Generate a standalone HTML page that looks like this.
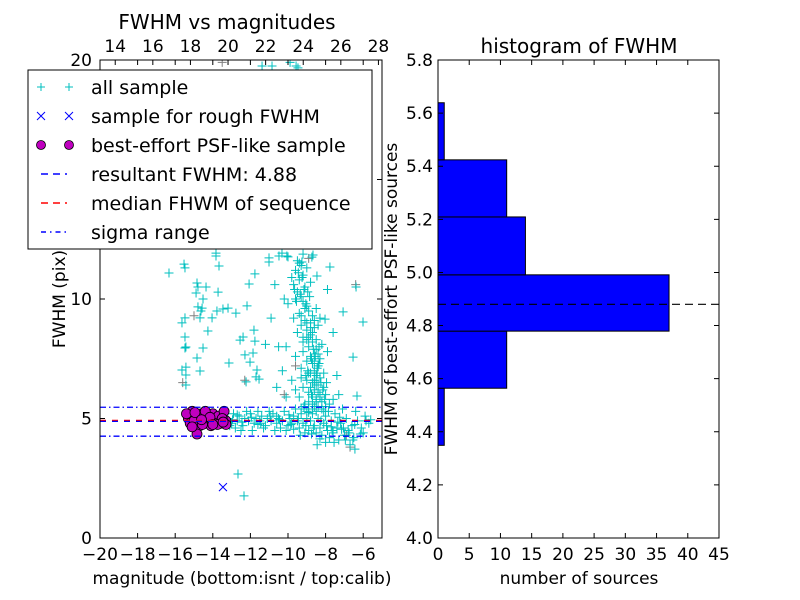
<!DOCTYPE html>
<html><head><meta charset="utf-8"><style>
body{margin:0;background:#fff}
svg{display:block;font-family:"DejaVu Sans","Liberation Sans",sans-serif}
</style></head><body>
<svg id="c" width="800" height="600" viewBox="0 0 800 600">
<rect width="800" height="600" fill="#fff"/>
<g id="left"></g>
<g id="right"></g>
</svg>
<script>
// ---- scatter data ----
const sampleMag = [-16.33,-15.53,-15.48,-13.67,-13.83,-14.84,-14.79,-14.36,-14.89,-13.72,-14.52,-14.57,-14.68,-14.63,-14.79,-15.48,-15.64,-14.04,-13.78,-13.46,-13.19,-12.77,-12.18,-14.26,-15.48,-15.43,-15.48,-14.52,-14.84,-15.64,-15.43,-15.43,-15.43,-14.68,-13.14,-12.55,-12.39,-11.81,-11.76,-12.29,-11.86,-12.02,-11.65,-11.70,-11.54,-12.23,-12.07,-11.76,-11.01,-10.32,-10.0,-9.20,-8.67,-7.77,-8.46,-6.38,-7.07,-6.01,-6.54,-8.03,-6.33,-6.44,-12.66,-12.34,
-11.38,-10.85,-9.89,-9.57,-9.47,-13.83,-11.01,-10.48,-10.06,-9.26,-8.73,
-9.5,-9.3,-9.6,-9.2,-9.4,-9.7,-9.1,-9.5,-9.3,-9.8,-9.0,-9.4,-8.8,-9.6,
-9.2,-9.0,-8.9,-9.4,-8.7,-9.1,-8.8,-9.3,-8.6,-9.0,-9.5,-8.8,-8.5,-9.7,-8.4,-9.2,-10.0,-8.3,
-9.0,-8.7,-8.9,-8.5,-9.2,-8.6,-8.8,-8.3,-9.0,-8.7,-8.4,-9.3,-8.6,-8.9,-8.2,-9.6,-10.1,-7.9,
-8.8,-8.5,-8.3,-9.0,-8.7,-8.4,-8.1,-9.2,-8.6,-8.9,-8.3,-8.0,-9.4,-8.7,-8.5,-8.2,-8.9,-9.1,-8.4,-8.0,-8.7,-9.3,-7.8,-9.6,-8.6,-8.1,-9.0,-8.5,-7.6,-9.8,
-10.5,-10.3,-10.6,-10.1,-10.7,-10.2,-7.6,-7.4,-7.3,-10.9,-11.2,-7.9,
-13.2,-13.0,-12.9,-12.7,-12.6,-12.4,-12.3,-12.1,-12.0,-11.8,-11.7,-11.5,-11.4,-11.2,-11.1,-10.9,-10.8,-10.6,-10.5,-10.3,-10.2,-10.0,-9.9,-9.8,-9.7,-9.5,-9.4,-9.3,-9.2,-9.0,-8.9,-8.8,-8.7,-8.6,-8.5,-8.4,-8.3,-8.2,-8.1,-8.0,-7.9,-7.8,-7.7,-7.6,-7.5,-7.4,-7.3,-7.2,-7.0,-6.9,-6.8,-6.6,-6.5,-6.3,-6.1,-5.9,-5.7,-12.8,-11.9,-11.0,-10.4,-9.6,-9.1,-8.6,-8.0,-7.1,-6.4,-12.2,-11.3,-10.1,-9.95,-8.75,-7.55,-7.25,-6.7,-13.1,-12.5,-11.6,-10.7,-9.35,-8.45,-7.85,-6.95];
const sampleFwhm = [11.09,11.46,11.30,11.38,11.92,10.67,10.50,10.50,10.25,10.29,10.0,9.62,9.21,9.50,9.67,9.21,9.0,9.21,9.50,9.58,9.62,9.41,9.71,8.66,8.41,7.99,7.95,7.95,7.53,7.03,7.15,6.82,6.40,6.99,7.32,8.28,8.41,8.70,8.24,7.66,7.74,7.36,7.03,6.74,6.65,6.53,10.63,11.05,11.72,11.92,11.76,11.88,11.84,11.34,10.96,10.50,9.46,9.04,7.57,9.16,5.94,3.72,2.68,1.76,
19.75,19.75,19.9,19.75,19.67,11.8,11.55,11.8,11.8,11.55,11.75,
11.6,11.4,11.2,11.0,10.8,10.6,10.5,10.3,10.1,10.9,11.3,11.5,10.7,10.0,
9.9,9.7,9.5,9.4,9.3,9.1,9.0,8.9,8.8,8.7,8.6,8.5,9.6,9.2,8.9,8.4,9.8,9.2,
8.3,8.2,8.0,7.9,7.8,7.7,7.6,7.5,7.4,7.3,7.2,7.1,7.0,6.9,8.1,7.6,8.0,7.8,
6.9,6.8,6.7,6.6,6.5,6.4,6.3,6.3,6.2,6.1,6.0,6.0,5.9,5.9,5.8,5.7,5.7,5.6,5.5,5.5,5.4,5.4,5.6,6.2,6.6,6.9,5.3,5.3,5.8,6.6,
8.0,7.0,6.3,5.9,10.6,10.0,8.6,6.8,6.0,9.2,8.1,10.4,
5.0,4.8,5.2,4.9,5.1,4.7,5.0,4.9,5.2,4.8,5.0,4.9,5.1,4.7,5.0,4.9,5.2,4.8,5.0,4.9,5.3,4.7,5.0,4.8,5.1,4.9,4.6,5.2,4.8,5.0,4.5,4.9,5.2,4.7,4.4,5.0,4.6,4.3,4.8,5.1,4.5,4.2,4.9,4.4,5.2,4.6,4.1,4.8,4.3,5.0,4.5,4.7,4.2,4.9,4.6,5.1,4.8,4.6,4.5,5.3,4.6,5.4,4.4,5.5,4.0,5.4,5.3,5.3,4.6,4.5,5.15,4.35,4.0,5.05,3.9,4.7,4.5,5.3,4.5,4.3,3.9,5.3,4.1];
const plumeMag = [-9.45,-9.25,-9.15,-9.35,-9.05,-8.95,-9.55,-9.65,-8.85,-9.1,-9.3,-9.0,-8.8,-8.9,-8.6,-8.7,-9.2,-8.5,-8.65,-8.75,-8.55,-8.45,-8.35,-8.95,-9.05,-8.25,-8.6,-8.4,-8.8,-8.3,-8.15,-8.5,-9.15,-8.7,-8.9,-8.2,-8.05,-8.45,-8.6,-8.35,-9.3,-8.75,-8.5,-8.1,-7.95,-8.4];
const plumeFwhm = [11.1,10.9,10.4,10.2,9.8,10.3,9.9,10.4,10.1,9.6,9.3,9.0,8.8,8.4,9.1,8.6,8.2,8.3,7.9,7.5,7.6,7.1,7.3,7.0,6.8,6.5,6.6,6.1,6.3,5.9,6.2,5.7,5.5,5.6,5.4,5.4,5.8,6.9,7.4,8.0,6.7,6.0,6.4,5.3,6.5,7.7];
const bandMag = [-12.95,-12.45,-11.95,-11.45,-10.95,-10.45,-9.85,-9.45,-9.05,-8.65,-8.25,-7.95,-7.65,-7.35,-7.05,-6.75,-6.45,-6.15,-5.85,-12.7,-11.6,-10.6,-9.7,-8.9,-8.3,-7.7,-7.15,-6.55,-6.0,-5.6];
const bandFwhm = [4.95,4.85,5.05,4.8,5.1,4.95,4.75,5.0,4.7,4.6,4.9,4.7,4.5,4.85,4.6,4.4,4.75,4.35,4.9,5.15,4.75,5.1,4.55,5.25,4.15,4.65,4.55,4.1,4.4,4.95];
const otherMag = [-13.5,-15.6,-12.3,-6.4,-9.6,-8.9,-6.9,-6.7,-10.2,-15.0];
const otherFwhm = [19.9,6.5,6.6,10.6,7.2,11.7,4.3,3.8,6.0,9.3];
const roughMag = [-13.46];
const roughFwhm = [2.13];
const psfMag = [-15.3,-15.1,-14.9,-14.8,-14.6,-14.5,-14.3,-14.2,-14.0,-13.9,-13.7,-13.6,-13.4,-13.3,-15.2,-15.0,-14.7,-14.4,-14.1,-13.8,-13.5,-13.3,-14.84,-15.4,-14.95,-14.55,-14.15,-13.75,-13.45,-14.0,-14.6,-15.1];
const psfFwhm = [5.0,5.3,5.1,4.8,5.2,4.9,5.0,4.8,5.2,4.9,5.1,4.8,5.3,4.9,4.8,4.9,4.7,5.3,4.7,4.8,5.0,4.75,4.35,5.2,5.25,4.75,5.05,4.75,4.85,4.75,4.95,4.65];
const resultFwhm = 4.88, medianFwhm = 4.92, sigmaLo = 4.26, sigmaHi = 5.47;
const xTicks = [-20,-18,-16,-14,-12,-10,-8,-6];
const xTickLabels = ["\u221220","\u221218","\u221216","\u221214","\u221212","\u221210","\u22128","\u22126"];
const topTicks = [14,16,18,20,22,24,26,28];
const yTicks = [0,5,10,15,20];
// ---- histogram data ----
const binEdges = [4.349,4.564,4.779,4.991,5.209,5.424,5.639];
const binCounts = [1,11,37,14,11,1];
const hxTicks = [0,5,10,15,20,25,30,35,40,45];
const hyTicks = [4.0,4.2,4.4,4.6,4.8,5.0,5.2,5.4,5.6,5.8];
const hyTickLabels = ["4.0","4.2","4.4","4.6","4.8","5.0","5.2","5.4","5.6","5.8"];

const NS="http://www.w3.org/2000/svg";
function mk(parent,tag,attrs,text){const e=document.createElementNS(NS,tag);for(const k in attrs)e.setAttribute(k,attrs[k]);if(text!==undefined)e.textContent=text;parent.appendChild(e);return e;}
const TF=17, LF=19, TT=20;

const L={x0:100,x1:382,y0:538,y1:60};
const sx=v=>L.x0+(v+20)*(L.x1-L.x0)/15;
const sy=v=>L.y0-(v)*(L.y0-L.y1)/20;
const tx=v=>L.x0+(v-13.19)*(L.x1-L.x0)/15;
const left=document.getElementById('left');
const clip=mk(left,'clipPath',{id:'lc'});mk(clip,'rect',{x:L.x0,y:L.y1,width:L.x1-L.x0,height:L.y0-L.y1});
const plot=mk(left,'g',{'clip-path':'url(#lc)'});


function plus(g,x,y,col){return mk(g,'path',{d:`M${x-4.5},${y}H${x+4.5}M${x},${y-4.5}V${y+4.5}`,stroke:col,'stroke-width':1,fill:'none'});}
for(let i=0;i<otherMag.length;i++){const p=plus(plot,sx(otherMag[i]),sy(otherFwhm[i]),'#808080');

}
function drawAll(mags,fw){for(let i=0;i<mags.length;i++){const p=plus(plot,sx(mags[i]),sy(fw[i]),'#00bfbf');

}}
drawAll(sampleMag,sampleFwhm);drawAll(plumeMag,plumeFwhm);drawAll(bandMag,bandFwhm);
for(let i=0;i<roughMag.length;i++){const x=sx(roughMag[i]),y=sy(roughFwhm[i]);const p=mk(plot,'path',{d:`M${x-4},${y-4}L${x+4},${y+4}M${x-4},${y+4}L${x+4},${y-4}`,stroke:'#0000ff','stroke-width':1});

}
for(let i=0;i<psfMag.length;i++){const c=mk(plot,'circle',{cx:sx(psfMag[i]),cy:sy(psfFwhm[i]),r:5,fill:'#bf00bf',stroke:'#000','stroke-width':0.8});

}
function hline(g,v,col,dash,name){const l=mk(g,'line',{x1:L.x0,x2:L.x1,y1:sy(v),y2:sy(v),stroke:col,'stroke-width':1.3,'stroke-dasharray':dash});

}
hline(plot,medianFwhm,'#ff0000','6,6','median-fwhm-line');
hline(plot,resultFwhm,'#0000ff','6,6','resultant-fwhm-line');
hline(plot,sigmaHi,'#0000ff','6,3,1.5,3','sigma-upper-line');
hline(plot,sigmaLo,'#0000ff','6,3,1.5,3','sigma-lower-line');
const fr=mk(left,'rect',{x:L.x0,y:L.y1,width:L.x1-L.x0,height:L.y0-L.y1,fill:'none',stroke:'#000','stroke-width':1});


xTicks.forEach((v,i)=>{const x=sx(v);mk(left,'path',{d:`M${x},${L.y0}v-5M${x},${L.y1}v5`,stroke:'#000'});
const t=mk(left,'text',{x:x,y:L.y0+22,'text-anchor':'middle','font-size':TF},xTickLabels[i]);

});
topTicks.forEach(v=>{const x=tx(v);mk(left,'path',{d:`M${x},${L.y1}v5`,stroke:'#000'});
const t=mk(left,'text',{x:x,y:L.y1-8,'text-anchor':'middle','font-size':TF},String(v));

});
yTicks.forEach(v=>{const y=sy(v);mk(left,'path',{d:`M${L.x0},${y}h5M${L.x1},${y}h-5`,stroke:'#000'});
const t=mk(left,'text',{x:L.x0-8,y:y+6,'text-anchor':'end','font-size':TF},String(v));

});
let t=mk(left,'text',{x:227,y:29,'text-anchor':'middle','font-size':TT},'FWHM vs magnitudes');

t=mk(left,'text',{x:242,y:584,'text-anchor':'middle','font-size':TF},'magnitude (bottom:isnt / top:calib)');

t=mk(left,'text',{x:0,y:0,'text-anchor':'middle','font-size':TF,transform:'translate(65,299) rotate(-90)'},'FWHM (pix)');

const lg=mk(left,'g',{});


mk(lg,'rect',{x:28,y:70,width:344,height:179,fill:'#fff',stroke:'#000','stroke-width':1});
const labels=['all sample','sample for rough FWHM','best-effort PSF-like sample','resultant FWHM: 4.88','median FHWM of sequence','sigma range'];
labels.forEach((s,i)=>{const y=87+i*29;const e=mk(lg,'g',{});


if(i==0){[41,69].forEach(x=>mk(e,'path',{d:`M${x-4},${y}h8M${x},${y-4}v8`,stroke:'#00bfbf'}));}
if(i==1){[41,69].forEach(x=>mk(e,'path',{d:`M${x-4},${y-4}l8,8M${x-4},${y+4}l8,-8`,stroke:'#0000ff'}));}
if(i==2){[41,69].forEach(x=>mk(e,'circle',{cx:x,cy:y,r:4.5,fill:'#bf00bf',stroke:'#000','stroke-width':0.8}));}
if(i==3)mk(e,'line',{x1:41,x2:67,y1:y,y2:y,stroke:'#0000ff','stroke-width':1.5,'stroke-dasharray':'7,5'});
if(i==4)mk(e,'line',{x1:41,x2:67,y1:y,y2:y,stroke:'#ff0000','stroke-width':1.5,'stroke-dasharray':'7,5'});
if(i==5)mk(e,'line',{x1:41,x2:67,y1:y,y2:y,stroke:'#0000ff','stroke-width':1.5,'stroke-dasharray':'5,4,1.5,4'});
mk(e,'text',{x:91,y:y+7,'font-size':LF},s);});

const R={x0:438,x1:719,y0:538,y1:60};
const hx=v=>R.x0+v*(R.x1-R.x0)/45;
const hy=v=>R.y0-(v-4)*(R.y0-R.y1)/1.8;
const right=document.getElementById('right');
binCounts.forEach((c,i)=>{const r=mk(right,'rect',{x:hx(0),y:hy(binEdges[i+1]),width:hx(c)-hx(0),height:hy(binEdges[i])-hy(binEdges[i+1]),fill:'#0000ff',stroke:'#000','stroke-width':1});

});
const dl=mk(right,'line',{x1:R.x0,x2:R.x1,y1:hy(resultFwhm),y2:hy(resultFwhm),stroke:'#000','stroke-width':1.2,'stroke-dasharray':'8,5'});


const hf=mk(right,'rect',{x:R.x0,y:R.y1,width:R.x1-R.x0,height:R.y0-R.y1,fill:'none',stroke:'#000'});


hxTicks.forEach(v=>{const x=hx(v);mk(right,'path',{d:`M${x},${R.y0}v-5M${x},${R.y1}v5`,stroke:'#000'});
const t=mk(right,'text',{x:x,y:R.y0+22,'text-anchor':'middle','font-size':TF},String(v));

});
hyTicks.forEach((v,i)=>{const y=hy(v);mk(right,'path',{d:`M${R.x0},${y}h5M${R.x1},${y}h-5`,stroke:'#000'});
const t=mk(right,'text',{x:R.x0-5,y:y+6,'text-anchor':'end','font-size':TF},hyTickLabels[i]);

});
t=mk(right,'text',{x:579,y:53,'text-anchor':'middle','font-size':TT},'histogram of FWHM');

t=mk(right,'text',{x:579,y:584,'text-anchor':'middle','font-size':TF},'number of sources');

t=mk(right,'text',{x:0,y:0,'text-anchor':'middle','font-size':TF,transform:'translate(397,299) rotate(-90)'},'FWHM of best-effort PSF-like sources');

</script>
</body></html>
